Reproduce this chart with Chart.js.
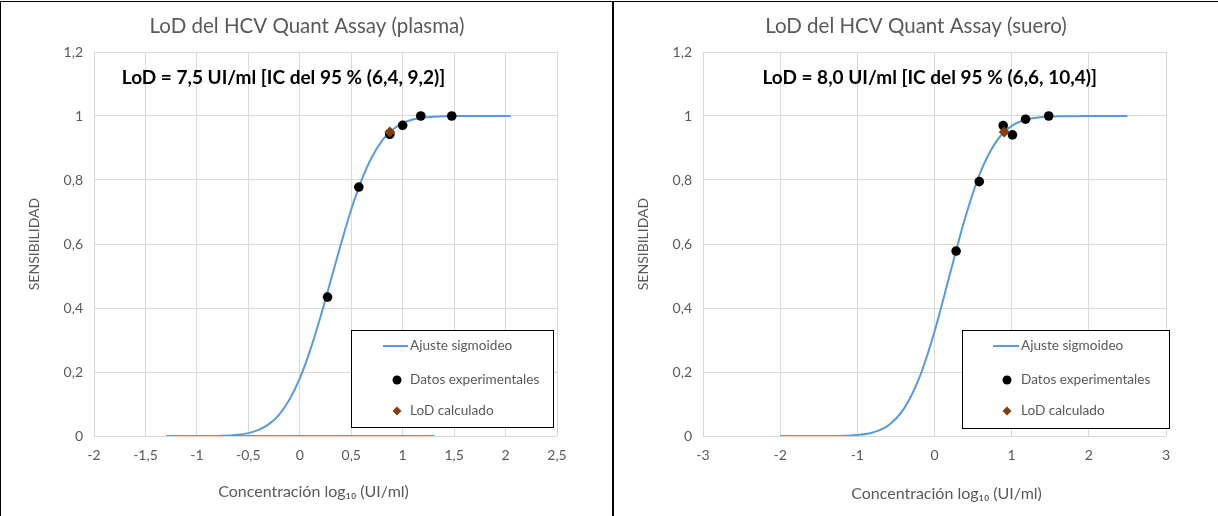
<!DOCTYPE html>
<html><head><meta charset="utf-8">
<script src="https://cdn.jsdelivr.net/npm/chart.js@4.4.0/dist/chart.umd.min.js"></script>
<style>
html,body{margin:0;padding:0;background:#fff;width:1218px;height:516px;overflow:hidden;}
canvas{position:absolute;top:0;}
#c1{left:0;}
#c2{left:614px;}
.bd{position:absolute;border-style:solid;border-color:#000;box-sizing:border-box;pointer-events:none;}
</style></head><body>
<canvas id="c1" width="614" height="516"></canvas>
<canvas id="c2" width="604" height="516"></canvas>
<div class="bd" style="left:0;top:1px;width:614px;height:540px;border-width:1px 2px 0 1px"></div>
<div class="bd" style="left:614px;top:1px;width:610px;height:540px;border-width:1px 0 0 0"></div>
<script>
// ---------- data: plasma ----------
const plasmaCurveX = [-1.3,-1.0,-0.75,-0.5,-0.4,-0.3,-0.2,-0.1,0,0.1,0.2,0.3,0.4,0.5,0.6,0.7,0.8,0.9,1.0,1.1,1.2,1.3,1.5,1.75,2.05];
const plasmaCurveY = [0,0,0.001,0.009,0.019,0.037,0.067,0.114,0.18,0.267,0.371,0.485,0.600,0.708,0.799,0.871,0.923,0.957,0.978,0.989,0.995,0.998,1,1,1];
const plasmaBaseX = [-1.26,1.31];
const plasmaBaseY = [0,0];
const plasmaPointsX = [0.27,0.574,0.875,1.0,1.176,1.477];
const plasmaPointsY = [0.434,0.778,0.943,0.971,1.0,1.0];
const plasmaLodX = [0.875];
const plasmaLodY = [0.95];
const plasmaXTicks = [-2,-1.5,-1,-0.5,0,0.5,1,1.5,2,2.5];

// ---------- data: suero ----------
const sueroCurveX = [-2,-1.5,-1.25,-1.0,-0.8,-0.6,-0.4,-0.2,0,0.2,0.4,0.6,0.8,1.0,1.2,1.4,1.6,2.0,2.5];
const sueroCurveY = [0,0,0,0.003,0.011,0.033,0.084,0.18,0.326,0.506,0.684,0.827,0.92,0.969,0.99,0.997,0.999,1,1];
const sueroPointsX = [0.28,0.58,0.89,1.01,1.18,1.48];
const sueroPointsY = [0.578,0.795,0.97,0.941,0.99,1.0];
const sueroLodX = [0.903];
const sueroLodY = [0.95];
const sueroXTicks = [-3,-2,-1,0,1,2,3];

const yTicks = [0,0.2,0.4,0.6,0.8,1,1.2];
const legendLabels = ['Ajuste sigmoideo','Datos experimentales','LoD calculado'];
const titles = ['LoD del HCV Quant Assay (plasma)','LoD del HCV Quant Assay (suero)'];
const notes = ['LoD = 7,5 UI/ml [IC del 95 % (6,4, 9,2)]','LoD = 8,0 UI/ml [IC del 95 % (6,6, 10,4)]'];
const yTitle = 'SENSIBILIDAD';
const xTitle = 'Concentración log\u2081\u2080 (UI/ml)';

// ---------- styles ----------
const FONT = 'Lato, "Open Sans", sans-serif';
const GRAY = '#595959';
const GRID = '#d9d9d9';
const BLUE = '#5B9BD5';
const BROWN = '#843C0C';

function fmt(v){ return String(v).replace('.', ','); }
function pts(xs, ys){ return xs.map((x,i)=>({x:x, y:ys[i]})); }

const boxLegend = {
  id:'boxLegend',
  afterDraw(chart, args, o){
    if(!o || !o.box) return;
    const ctx = chart.ctx, a = chart.chartArea;
    const bx = Math.round(a.left + o.box[0]), by = Math.round(a.top + o.box[1]);
    const bw = o.box[2], bh = o.box[3];
    ctx.save();
    ctx.fillStyle = '#fff';
    ctx.fillRect(bx, by, bw, bh);
    ctx.strokeStyle = '#000'; ctx.lineWidth = 1;
    ctx.strokeRect(bx+0.5, by+0.5, bw, bh);
    ctx.font = '13.6px ' + FONT; ctx.fillStyle = GRAY;
    ctx.textBaseline = 'middle'; ctx.textAlign = 'left';
    const r = o.rows;
    ctx.strokeStyle = BLUE; ctx.lineWidth = 2;
    ctx.beginPath(); ctx.moveTo(bx+o.line[0], by+r[0]); ctx.lineTo(bx+o.line[1], by+r[0]); ctx.stroke();
    ctx.fillText(legendLabels[0], bx+o.text, by+r[0]);
    ctx.fillStyle = '#000';
    ctx.beginPath(); ctx.arc(bx+o.mark, by+r[1], 4.5, 0, Math.PI*2); ctx.fill();
    ctx.fillStyle = GRAY;
    ctx.fillText(legendLabels[1], bx+o.text, by+r[1]);
    const dx = bx+o.mark, dy = by+r[2], s = 4.5;
    ctx.fillStyle = BROWN;
    ctx.beginPath(); ctx.moveTo(dx, dy-s); ctx.lineTo(dx+s, dy); ctx.lineTo(dx, dy+s); ctx.lineTo(dx-s, dy); ctx.closePath(); ctx.fill();
    ctx.fillStyle = GRAY;
    ctx.fillText(legendLabels[2], bx+o.text, by+r[2]);
    ctx.restore();
  }
};

const note = {
  id:'note',
  afterDatasetsDraw(chart, args, o){
    if(!o || !o.text) return;
    const ctx = chart.ctx, x = chart.scales.x, y = chart.scales.y;
    ctx.save();
    ctx.font = 'bold 19px ' + FONT; ctx.fillStyle = '#000';
    ctx.textBaseline = 'middle'; ctx.textAlign = 'left';
    ctx.fillText(o.text, x.getPixelForValue(o.x), y.getPixelForValue(o.y));
    ctx.restore();
  }
};

function makeChart(id, c){
  const datasets = [
    {label:legendLabels[0], data:pts(c.curveX, c.curveY), showLine:true, borderColor:BLUE, backgroundColor:BLUE, borderWidth:2, pointRadius:0, cubicInterpolationMode:'monotone', order:3}
  ];
  if(c.baseX) datasets.push({label:'base', data:pts(c.baseX, c.baseY), showLine:true, borderColor:BLUE, borderWidth:2, pointRadius:0, order:4});
  datasets.push({label:legendLabels[1], data:pts(c.pX, c.pY), showLine:false, backgroundColor:'#000', borderColor:'#000', pointRadius:4.8, pointBorderWidth:0, order:1});
  datasets.push({label:legendLabels[2], data:pts(c.lX, c.lY), showLine:false, backgroundColor:BROWN, borderColor:BROWN, pointStyle:'rectRot', pointRadius:5.5, pointBorderWidth:0, order:0});

  return new Chart(document.getElementById(id), {
    type:'scatter',
    data:{datasets:datasets},
    plugins:[note, boxLegend],
    options:{
      responsive:false, animation:false, events:[],
      layout:{padding:0},
      scales:{
        x:{type:'linear', position:'bottom', min:c.xTicks[0], max:c.xTicks[c.xTicks.length-1],
          afterBuildTicks:s=>{ s.ticks = c.xTicks.map(v=>({value:v})); },
          afterFit:s=>{ s.height = 80; },
          ticks:{callback:v=>fmt(v), color:GRAY, font:{family:FONT,size:14}, padding:11, maxRotation:0, autoSkip:false},
          grid:{color:GRID, lineWidth:1, drawTicks:false},
          border:{display:false},
          title:{display:true, text:c.xTitleText, color:GRAY, font:{family:FONT,size:16}, padding:{top:0,bottom:c.xTitlePad}}
        },
        y:{type:'linear', position:'left', min:0, max:1.2,
          afterBuildTicks:s=>{ s.ticks = yTicks.map(v=>({value:v})); },
          afterFit:s=>{ s.width = c.yWidth; },
          ticks:{callback:v=>fmt(v), color:GRAY, font:{family:FONT,size:14}, padding:11},
          grid:{color:GRID, lineWidth:1, drawTicks:false},
          border:{display:false},
          title:{display:true, text:yTitle, color:GRAY, font:{family:FONT,size:14}, padding:{top:c.yTitlePad,bottom:0}}
        },
        yr:{type:'linear', position:'right', display:true,
          ticks:{display:false}, grid:{display:false}, border:{display:false},
          afterFit:s=>{ s.width = c.rightWidth; }
        }
      },
      plugins:{
        legend:{display:false}, tooltip:{enabled:false},
        title:{display:true, text:c.title, color:GRAY, font:{family:FONT,size:20.5,weight:'normal'}, padding:{top:14,bottom:13.4}},
        note:{text:c.note, x:c.noteX, y:c.noteY},
        boxLegend:c.legend
      }
    }
  });
}

makeChart('c1', {
  curveX:plasmaCurveX, curveY:plasmaCurveY, baseX:plasmaBaseX, baseY:plasmaBaseY,
  pX:plasmaPointsX, pY:plasmaPointsY, lX:plasmaLodX, lY:plasmaLodY,
  xTicks:plasmaXTicks, yWidth:94, rightWidth:57, yTitlePad:25.6, xTitlePad:14.4,
  xTitleText:xTitle + '\u2002\u2002\u2002',
  title:titles[0], note:notes[0], noteX:-1.73, noteY:1.12,
  legend:{box:[257,278,202,97], line:[32,57], mark:46, text:59, rows:[16,50,81]}
});
makeChart('c2', {
  curveX:sueroCurveX, curveY:sueroCurveY,
  pX:sueroPointsX, pY:sueroPointsY, lX:sueroLodX, lY:sueroLodY,
  xTicks:sueroXTicks, yWidth:89, rightWidth:52, yTitlePad:20.6, xTitlePad:12.4,
  xTitleText:'\u2002\u2002\u2002' + xTitle,
  title:titles[1], note:notes[1], noteX:-2.23, noteY:1.12,
  legend:{box:[259,278,207,98], line:[31,57], mark:45, text:59, rows:[16,50,81]}
});
</script>
</body></html>
